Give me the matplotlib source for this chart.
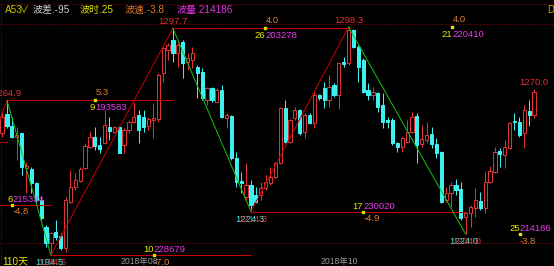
import matplotlib
matplotlib.use("Agg")
import matplotlib.pyplot as plt
from matplotlib.transforms import offset_copy
import numpy as np

plt.rcParams['font.family'] = ['Liberation Sans', 'Noto Sans CJK SC', 'DejaVu Sans']

# ---- daily bars (open, high, low, close) ----
opens = [1249.9, 1258.6, 1253.2, 1248.2, 1249.9, 1234.1, 1233.7, 1227.3, 1219.6, 1207.4,
         1199.9, 1205.1, 1203.2, 1197.7, 1218.8, 1225.6, 1228.4, 1234.0, 1243.8, 1248.4,
         1244.6, 1245.4, 1252.9, 1250.7, 1252.7, 1244.6, 1251.4, 1255.2, 1258.2, 1257.5,
         1253.2, 1256.0, 1256.3, 1277.2, 1287.8, 1292.4, 1286.3, 1291.6, 1282.5, 1283.3,
         1280.2, 1278.0, 1265.1, 1270.4, 1264.3, 1269.6, 1256.7, 1257.8, 1238.5, 1228.4,
         1221.1, 1226.4, 1221.8, 1221.8, 1224.9, 1227.2, 1230.2, 1236.3, 1261.3, 1246.1,
         1256.7, 1260.5, 1250.7, 1258.2, 1254.5, 1267.4, 1270.4, 1265.1, 1271.9, 1267.4,
         1282.5, 1281.8, 1296.9, 1289.3, 1283.3, 1269.6, 1267.4, 1268.1, 1262.8, 1256.0,
         1256.0, 1245.7, 1243.8, 1246.1, 1250.7, 1257.9, 1244.9, 1246.9, 1249.5, 1245.0,
         1241.5, 1219.6, 1222.6, 1226.4, 1224.4, 1211.7, 1213.5, 1215.8, 1219.1, 1215.8,
         1227.6, 1232.4, 1241.9, 1240.0, 1243.1, 1255.5, 1255.2, 1249.9, 1260.2, 1258.2]
highs = [1259.2, 1264.9, 1257.5, 1252.9, 1250.2, 1237.0, 1234.7, 1227.9, 1221.1, 1208.2,
         1205.0, 1210.5, 1204.5, 1221.1, 1233.2, 1231.8, 1234.7, 1245.4, 1251.1, 1252.9,
         1248.4, 1260.5, 1257.5, 1253.2, 1253.2, 1252.2, 1256.0, 1264.3, 1260.5, 1260.5,
         1257.5, 1263.6, 1277.2, 1289.3, 1290.9, 1297.7, 1291.2, 1292.4, 1286.3, 1289.3,
         1281.0, 1279.5, 1271.1, 1271.1, 1270.4, 1271.9, 1259.0, 1258.2, 1241.5, 1232.4,
         1236.3, 1228.7, 1225.6, 1227.9, 1230.9, 1234.7, 1237.0, 1261.8, 1265.1, 1256.3,
         1262.0, 1260.8, 1259.0, 1259.0, 1268.8, 1267.8, 1273.4, 1276.5, 1272.7, 1282.1,
         1284.8, 1298.3, 1297.2, 1290.1, 1284.1, 1272.7, 1271.1, 1268.8, 1268.1, 1257.5,
         1256.7, 1246.1, 1248.4, 1256.0, 1259.7, 1259.0, 1253.7, 1255.2, 1252.9, 1247.6,
         1242.0, 1225.6, 1227.9, 1229.0, 1227.9, 1214.2, 1217.3, 1224.9, 1223.3, 1232.4,
         1235.0, 1243.8, 1243.1, 1246.9, 1255.2, 1259.0, 1257.5, 1262.8, 1265.1, 1270.0]
lows = [1248.2, 1252.3, 1247.8, 1237.8, 1230.9, 1222.7, 1222.7, 1218.8, 1210.5, 1198.3,
        1194.5, 1201.4, 1196.8, 1196.0, 1218.1, 1224.1, 1227.9, 1233.5, 1243.1, 1242.3,
        1240.8, 1245.0, 1246.9, 1250.1, 1240.8, 1240.8, 1249.9, 1254.5, 1245.5, 1250.7,
        1251.4, 1247.6, 1255.2, 1273.4, 1283.3, 1282.5, 1280.2, 1274.9, 1278.7, 1279.5,
        1265.8, 1265.1, 1262.8, 1264.3, 1263.6, 1256.7, 1252.2, 1237.8, 1225.6, 1222.6,
        1219.6, 1214.3, 1218.3, 1219.6, 1224.1, 1226.4, 1229.4, 1235.9, 1245.6, 1245.6,
        1256.0, 1249.1, 1247.6, 1254.2, 1252.2, 1265.1, 1261.3, 1261.8, 1266.6, 1260.8,
        1280.2, 1281.0, 1288.6, 1273.4, 1268.1, 1265.1, 1265.1, 1259.7, 1252.2, 1252.2,
        1244.6, 1241.5, 1241.5, 1245.4, 1249.9, 1236.3, 1243.8, 1245.4, 1243.1, 1238.5,
        1218.1, 1218.8, 1216.5, 1221.8, 1210.5, 1204.0, 1207.4, 1212.0, 1215.0, 1213.5,
        1227.2, 1231.7, 1234.7, 1234.0, 1242.6, 1251.4, 1248.4, 1243.1, 1253.2, 1256.7]
closes = [1257.5, 1253.2, 1248.4, 1249.1, 1234.7, 1235.0, 1227.3, 1219.6, 1211.4, 1200.1,
          1204.4, 1202.9, 1197.7, 1219.6, 1225.6, 1228.7, 1233.7, 1244.1, 1248.4, 1244.1,
          1242.6, 1253.7, 1251.0, 1252.7, 1241.1, 1251.4, 1255.2, 1257.5, 1251.4, 1252.9,
          1256.3, 1256.7, 1276.5, 1288.6, 1290.1, 1286.3, 1290.1, 1281.8, 1284.1, 1286.3,
          1277.2, 1265.8, 1270.4, 1265.1, 1269.6, 1257.5, 1258.2, 1238.5, 1227.9, 1227.2,
          1226.4, 1217.3, 1218.8, 1224.9, 1227.9, 1230.2, 1236.5, 1261.3, 1246.1, 1256.0,
          1260.5, 1249.9, 1258.2, 1254.5, 1267.4, 1265.8, 1265.1, 1271.1, 1267.4, 1281.8,
          1281.5, 1296.9, 1289.3, 1280.2, 1268.8, 1267.4, 1268.8, 1262.0, 1255.2, 1255.2,
          1245.4, 1243.8, 1247.6, 1250.7, 1257.5, 1244.6, 1247.2, 1249.1, 1245.0, 1241.1,
          1218.8, 1222.6, 1226.4, 1224.1, 1211.5, 1213.5, 1216.5, 1219.6, 1216.1, 1227.6,
          1232.9, 1241.5, 1240.4, 1243.8, 1254.7, 1254.9, 1249.1, 1260.5, 1258.2, 1268.8]

# ---- wave turning points (bar index, price) ----
pivot_idx = [-12, -7, 1, 10, 35, 51, 71, 95]
pivot_val = [1246.1, 1217.3, 1264.9, 1194.5, 1297.7, 1214.3, 1298.3, 1204.0]

# ---- per-wave statistics for the waves ending at pivot 1..7 ----
wave_bars = [6, 9, 10, 26, 17, 21, 25]
wave_vol = [215334, 193583, 228679, 203278, 230020, 220410, 214186]
wave_speed = ["-4.8", "5.3", "-7.0", "4.0", "-4.9", "4.0", "-3.8"]

# secondary turning-point readouts shown in cyan under the lows
low_readout = {10: "1194.5", 51: "1224.3", 95: "1224.0"}

# price grid levels (dotted)
grid_levels = [1200.0, 1299.7, 1308.8]

# header summary of the current wave
header = [("A53", "#c8c800"), ("\u2228", "#c8c800"), ("波差.-95", "#d0d0d0"),
          ("波时.25", "#e0e000"), ("波速.-3.8", "#e07828"), ("波量.214186", "#e030e0")]
period_label = "110天"
date_labels = ["2018年08", "2018年10"]

# ---------------------------------------------------------------------------
W, H = 554, 266
fig = plt.figure(figsize=(W / 100, H / 100), dpi=100, facecolor="black")
ax = fig.add_axes([0, 0, 1, 1], facecolor="black")
ax.set_xlim(-0.43, 113.1)
ax.set_ylim(1189.5, 1310.6)
ax.axis("off")

RED = "#e03434"
CYAN = "#3ef0f0"
LINE_RED = "#c80000"
GREEN = "#10c010"
YEL = "#e8e800"
MAG = "#e83ce8"
ORG = "#e08030"
FS = 6.8
PX = 0.72  # one pixel in points

n = len(opens)
x = np.arange(n)
o = np.array(opens); h = np.array(highs); l = np.array(lows); c = np.array(closes)
up = c >= o

# dotted grid
for lv in grid_levels:
    ax.axhline(lv, color="#a00000", lw=PX, ls=(0, (1, 2)), zorder=1)
ax.plot([0.0018, 0.0018], [0, 1], transform=ax.transAxes, color="#a00000",
        lw=PX, ls=(0, (1, 2)), zorder=1)

# candles
ax.vlines(x[up], l[up], h[up], color=RED, lw=PX, zorder=2)
ax.vlines(x[~up], l[~up], h[~up], color=CYAN, lw=PX, zorder=2)
bw = 0.66
ax.bar(x[up], np.maximum(c[up] - o[up], 0.15), bottom=o[up], width=bw,
       facecolor="black", edgecolor=RED, lw=PX, zorder=3)
ax.bar(x[~up], np.maximum(o[~up] - c[~up], 0.15), bottom=c[~up], width=bw,
       facecolor=CYAN, edgecolor=CYAN, lw=PX, zorder=3)

# level lines from each turning point to the next one of the same kind
for k in range(len(pivot_idx) - 2):
    ax.plot([pivot_idx[k], pivot_idx[k + 2]], [pivot_val[k], pivot_val[k]],
            color=LINE_RED, lw=PX, zorder=4)

# zig-zag wave legs
for k in range(len(pivot_idx) - 1):
    col = LINE_RED if pivot_val[k + 1] > pivot_val[k] else GREEN
    ax.plot(pivot_idx[k:k + 2], pivot_val[k:k + 2], color=col, lw=PX, zorder=5)


def dtext(xv, yv, s, color, dx=0, dy=0, ha="left", va="center", fs=FS):
    tr = offset_copy(ax.transData, fig=fig, x=dx, y=dy, units="dots")
    ax.text(xv, yv, s, color=color, transform=tr, ha=ha, va=va, fontsize=fs,
            zorder=6, clip_on=False)


# wave statistics on each level line
label_at = [2.1, 19.0, 31.1, 53.9, 74.0, 92.2, 106.1]
for k in range(len(wave_bars)):
    lv = pivot_val[k + 1]
    xa = label_at[k]
    rising = pivot_val[k + 1] > pivot_val[k]
    ax.plot([xa], [lv], marker="s", ms=1.6, color=YEL, mec=YEL, zorder=6)
    if rising:
        dtext(xa, lv, wave_speed[k], ORG, dx=0.5, dy=7.5)
        dtext(xa, lv, str(wave_bars[k]), YEL, dy=-7, ha="right")
        dtext(xa, lv, str(wave_vol[k]), MAG, dy=-7)
    else:
        dtext(xa, lv, str(wave_bars[k]), YEL, dy=5.5, ha="right")
        dtext(xa, lv, str(wave_vol[k]), MAG, dy=5.5)
        dtext(xa, lv, wave_speed[k], ORG, dy=-7)

# turning point price labels
for i, v in zip(pivot_idx, pivot_val):
    if i < 0:
        continue
    s = f"{v:.1f}"
    if i in low_readout:
        dtext(i, v, low_readout[i], CYAN, dx=-1.5, dy=-7.5, ha="center")
        dtext(i, v, s, RED, dx=1.5, dy=-7.5, ha="center")
    else:
        dtext(i, v, s, RED, dy=7, ha="center")

# last bar high
dtext(n - 1, highs[-1], f"{highs[-1]:.1f}", RED, dy=6.5, ha="center")


def ptext(xp, yp, s, color, ha="left", va="center", fs=FS):
    fig.text(xp / W, 1 - yp / H, s, color=color, ha=ha, va=va, fontsize=fs)


for (s, col), xp in zip(header, [5, 19, 33, 80, 125, 177]):
    ptext(xp, 10, s, col, fs=7.2)
ptext(547, 10, "De", "#b8b800", fs=7)
ptext(2, 261, period_label, YEL, fs=7.2)
ptext(121, 257, date_labels[0], "#9a9a9a", va="top", fs=6.2)
ptext(321, 257, date_labels[1], "#9a9a9a", va="top", fs=6.2)

fig.savefig("out.png", dpi=100, facecolor="black")
